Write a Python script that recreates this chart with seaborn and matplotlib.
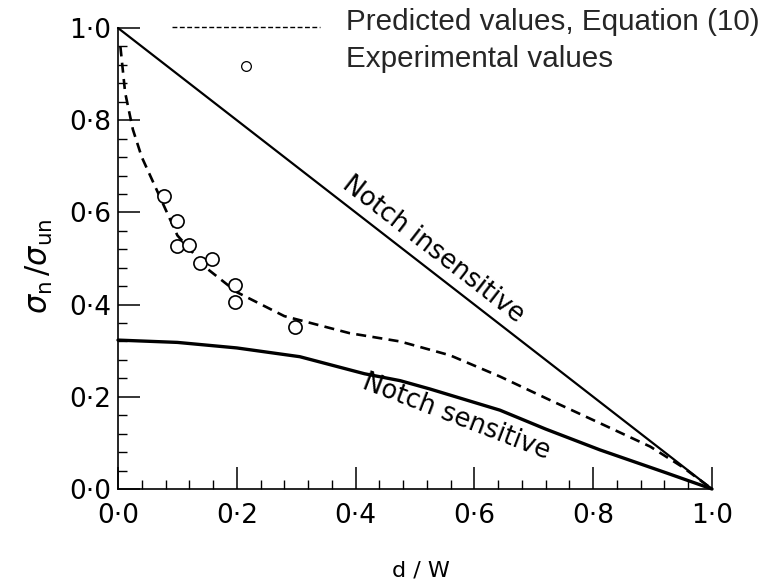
import matplotlib
matplotlib.use("Agg")
import matplotlib.pyplot as plt
from matplotlib.lines import Line2D
from matplotlib.legend_handler import HandlerLine2D
from matplotlib.ticker import MultipleLocator, FixedLocator, FixedFormatter
import seaborn as sns
import pandas as pd

# ---- data ----
x_insens = [0.0, 1.0]
y_insens = [1.0, 0.0]

x_sens = [0.0, 0.1, 0.2, 0.306, 0.415, 0.475, 0.525, 0.643, 0.72, 0.811, 0.923, 1.0]
y_sens = [0.323, 0.318, 0.306, 0.287, 0.25, 0.235, 0.217, 0.171, 0.13, 0.085, 0.035, 0.0]

x_pred = [0.004, 0.012, 0.025, 0.04, 0.07, 0.1, 0.15, 0.2, 0.28, 0.39, 0.475,
          0.559, 0.643, 0.727, 0.811, 0.896, 0.95, 1.0]
y_pred = [0.96, 0.86, 0.78, 0.72, 0.635, 0.55, 0.478, 0.427, 0.375, 0.338, 0.32,
          0.29, 0.244, 0.193, 0.143, 0.092, 0.048, 0.0]

x_exp = [0.078, 0.10, 0.099, 0.12, 0.138, 0.159, 0.197, 0.197, 0.298]
y_exp = [0.636, 0.581, 0.528, 0.529, 0.49, 0.50, 0.443, 0.405, 0.352]

tick_values = [0.0, 0.2, 0.4, 0.6, 0.8, 1.0]
tick_labels = ["0·0", "0·2", "0·4", "0·6", "0·8", "1·0"]

legend_labels = ["Predicted values, Equation (10)", "Experimental values"]
curve_labels = ["Notch insensitive", "Notch sensitive"]
x_title = "d / W"
y_title = r"$\sigma_{\rm n}\,/\sigma_{\rm un}$"


class ShiftedHandler(HandlerLine2D):
    """Legend handle drawn a little below the label's centre line."""
    def __init__(self, dy, **kw):
        super().__init__(**kw)
        self.dy = dy

    def create_artists(self, legend, orig_handle, xdescent, ydescent, width,
                       height, fontsize, trans):
        arts = super().create_artists(legend, orig_handle, xdescent, ydescent,
                                      width, height, fontsize, trans)
        for a in arts:
            a.set_ydata([v - self.dy for v in a.get_ydata()])
        return arts


# ---- figure ----
sns.set_theme(style="ticks")
plt.rcParams["font.family"] = ["DejaVu Sans"]
plt.rcParams["mathtext.fontset"] = "dejavusans"

fig = plt.figure(figsize=(7.78, 5.87), dpi=100)
ax = fig.add_axes([118 / 778, 1 - 489 / 587, (712 - 118) / 778, (489 - 28) / 587])

df_ins = pd.DataFrame({"x": x_insens, "y": y_insens})
df_sen = pd.DataFrame({"x": x_sens, "y": y_sens})
df_pre = pd.DataFrame({"x": x_pred, "y": y_pred})
df_exp = pd.DataFrame({"x": x_exp, "y": y_exp})

sns.lineplot(data=df_ins, x="x", y="y", ax=ax, color="black", lw=1.6,
             estimator=None, sort=False, clip_on=False)
sns.lineplot(data=df_sen, x="x", y="y", ax=ax, color="black", lw=2.4,
             estimator=None, sort=False, clip_on=False)
sns.lineplot(data=df_pre, x="x", y="y", ax=ax, color="black", lw=1.9,
             ls=(0, (3.8, 2.4)), estimator=None, sort=False, clip_on=False)
sns.scatterplot(data=df_exp, x="x", y="y", ax=ax, marker="o", s=90,
                facecolor="white", edgecolor="black", linewidth=1.2,
                zorder=5, clip_on=False)

ax.set_xlim(0, 1)
ax.set_ylim(0, 1)
sns.despine(ax=ax)
for sp in ("left", "bottom"):
    ax.spines[sp].set_linewidth(1.2)
    ax.spines[sp].set_color("black")

for axis in (ax.xaxis, ax.yaxis):
    axis.set_major_locator(FixedLocator(tick_values))
    axis.set_major_formatter(FixedFormatter(tick_labels))
    axis.set_minor_locator(MultipleLocator(0.04))

ax.tick_params(which="major", direction="in", length=16, width=1.1,
               color="black", labelsize=19, labelcolor="black")
ax.tick_params(which="minor", direction="in", length=6.5, width=1.0, color="black")
ax.tick_params(axis="x", which="major", pad=10)
ax.tick_params(axis="y", which="major", pad=5)

ax.set_xlabel("")
ax.set_ylabel("")
fig.text(421 / 778, 1 - 571 / 587, x_title, ha="center", va="center",
         fontsize=16, color="black")
fig.text(39 / 778, 1 - 266 / 587, y_title, ha="center", va="center",
         rotation=90, fontsize=22, color="black")

ax.text(0.53, 0.52, curve_labels[0], rotation=-37.8, ha="center", va="center",
        fontsize=18.5, color="black", rotation_mode="anchor")
ax.text(0.57, 0.155, curve_labels[1], rotation=-21, ha="center", va="center",
        fontsize=18.5, color="black", rotation_mode="anchor")

h_pred = Line2D([], [], color="black", lw=1.0, ls=(0, (3.5, 1.8)))
h_exp = Line2D([], [], color="black", lw=0, marker="o", markersize=7,
               markerfacecolor="white", markeredgecolor="black",
               markeredgewidth=0.9)
fig.legend([h_pred, h_exp], legend_labels, loc="upper left",
           bbox_to_anchor=(172 / 778, 1 - 8 / 587), frameon=False,
           prop={"family": "Liberation Sans", "size": 21.3},
           handlelength=5.0, handletextpad=0.88, labelspacing=0.3,
           borderpad=0, borderaxespad=0, numpoints=1,
           handler_map={h_pred: ShiftedHandler(5.0), h_exp: ShiftedHandler(7.0)})

fig.savefig("out.png", dpi=100)
